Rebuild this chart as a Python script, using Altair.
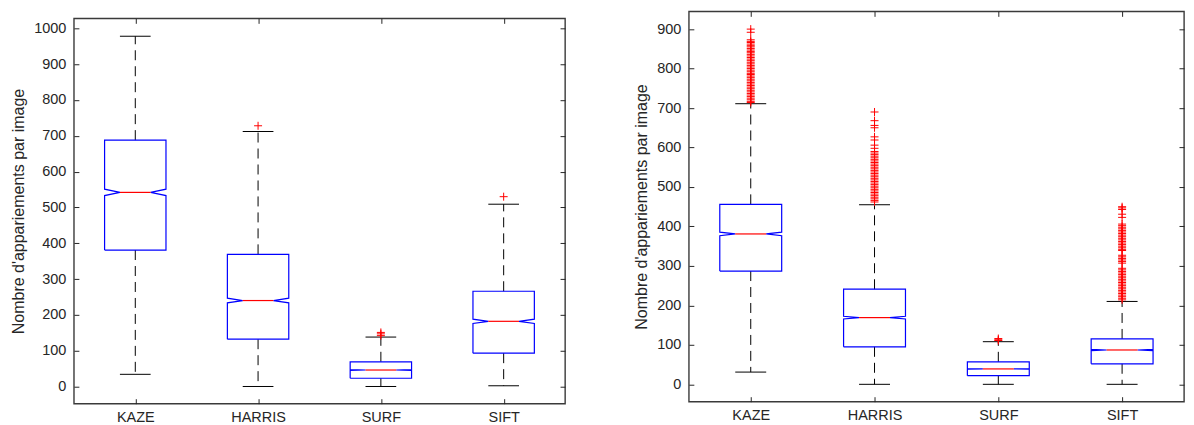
import altair as alt
import pandas as pd

names = ["KAZE", "HARRIS", "SURF", "SIFT"]
positions = [1, 2, 3, 4]

# ---- left panel values
L_q1 = [381, 132, 23, 93]
L_med = [542, 240, 46, 182]
L_q3 = [688, 369, 69, 266]
L_notch = [9, 6.5, 1.3, 6]
L_wlo = [34, 0, 0, 2]
L_whi = [978, 712, 138, 509]
L_out_KAZE = []
L_out_HARRIS = [728]
L_out_SURF = [142, 147, 151]
L_out_SIFT = [530]
L_yticks = [0, 100, 200, 300, 400, 500, 600, 700, 800, 900, 1000]
L_ydomain = [-48, 1028]

# ---- right panel values
R_q1 = [287, 95, 22, 52]
R_med = [381, 169, 39, 87]
R_q3 = [456, 241, 57, 115]
R_notch = [4.5, 3.5, 0.8, 1.5]
R_wlo = [31, 0, 0, 0]
R_whi = [711, 455, 108, 210]
R_out_KAZE = [900, 892, 873, 869, 866, 862, 858, 855, 851, 847, 843, 840, 836, 832,
              828, 824, 820, 816, 812, 808, 804, 800, 796, 792, 788, 785, 781, 777,
              773, 769, 765, 761, 757, 753, 749, 745, 741, 737, 733, 729, 725, 721,
              717, 714]
R_out_HARRIS = [690, 668, 656, 650, 627, 619, 606, 598, 590, 586, 582, 578, 574, 570,
                566, 562, 558, 554, 550, 546, 542, 538, 534, 530, 526, 522, 518, 514,
                510, 506, 502, 498, 494, 490, 486, 482, 478, 474, 470, 466, 462]
R_out_SURF = [111, 113, 116]
R_out_SIFT = [450, 447, 443, 431, 423, 406, 402, 398, 394, 390, 386, 382, 378, 374,
              370, 366, 362, 358, 354, 350, 346, 342, 339, 327, 323, 319, 315, 311,
              307, 294, 290, 286, 282, 278, 274, 270, 266, 262, 258, 254, 250, 246,
              242, 238, 234, 230, 226, 222, 218, 214]
R_yticks = [0, 100, 200, 300, 400, 500, 600, 700, 800, 900]
R_ydomain = [-44, 945]

FONT = "Liberation Sans"
TXT = "#262626"
BLUE = "#0000FF"
RED = "#FF0000"
HALF = 0.25      # half box width
INNER = 0.125    # half width at notch
CAP = 0.125      # half cap width
PLUS = "M-1,0L1,0M0,-1L0,1"


def panel(q1, med, q3, notch, wlo, whi, outs, yticks, ydomain, width, height, title=None):
    box_rows, whisk_rows, cap_rows, med_rows, out_rows = [], [], [], [], []
    for i, name in enumerate(names):
        c = positions[i]
        nlo, nhi = med[i] - notch[i], med[i] + notch[i]
        verts = [(c - HALF, q1[i]), (c + HALF, q1[i]), (c + HALF, nlo), (c + INNER, med[i]),
                 (c + HALF, nhi), (c + HALF, q3[i]), (c - HALF, q3[i]), (c - HALF, nhi),
                 (c - INNER, med[i]), (c - HALF, nlo), (c - HALF, q1[i])]
        for k, (vx, vy) in enumerate(verts):
            box_rows.append({"name": name, "k": k, "x": vx, "y": vy})
        whisk_rows.append({"name": name, "x": c, "y": q3[i], "y2": whi[i]})
        whisk_rows.append({"name": name, "x": c, "y": q1[i], "y2": wlo[i]})
        cap_rows.append({"x": c - CAP, "x2": c + CAP, "y": whi[i]})
        cap_rows.append({"x": c - CAP, "x2": c + CAP, "y": wlo[i]})
        med_rows.append({"x": c - INNER, "x2": c + INNER, "y": med[i]})
        for v in outs[i]:
            out_rows.append({"x": c, "y": v})

    xs = alt.Scale(domain=[0.5, 4.5], nice=False, zero=False)
    ys = alt.Scale(domain=ydomain, nice=False, zero=False)
    label_expr = "['', 'KAZE', 'HARRIS', 'SURF', 'SIFT'][datum.value]"

    common_axis = dict(grid=False, domain=False, tickSize=5, offset=-5, tickColor=TXT,
                       tickWidth=1, labelFont=FONT, labelFontSize=14.5, labelColor=TXT,
                       titleFont=FONT, titleFontSize=16, titleFontWeight="normal",
                       titleColor=TXT)

    x_bottom = alt.X("x:Q", scale=xs, axis=alt.Axis(orient="bottom", values=positions,
                     labelExpr=label_expr, labelPadding=7, title=None, **common_axis))
    y_left = alt.Y("y:Q", scale=ys, axis=alt.Axis(orient="left", values=yticks, format="d",
                   labelPadding=8, title=title, titlePadding=7, **common_axis))
    x_top = alt.X("x:Q", scale=xs, axis=alt.Axis(orient="top", values=positions,
                  labels=False, title=None, **common_axis))
    y_right = alt.Y("y:Q", scale=ys, axis=alt.Axis(orient="right", values=yticks,
                    labels=False, title=None, **common_axis))
    xn = alt.X("x:Q", scale=xs, axis=None)
    yn = alt.Y("y:Q", scale=ys, axis=None)

    wdf = pd.DataFrame(whisk_rows)
    whiskers = alt.Chart(wdf).mark_rule(color="#000000", strokeWidth=1,
                                         strokeDash=[10, 6]).encode(
        x=x_bottom, y=y_left, y2="y2:Q")
    ghost = alt.Chart(wdf).mark_rule(opacity=0).encode(x=x_top, y=y_right, y2="y2:Q")

    box = alt.Chart(pd.DataFrame(box_rows)).mark_line(color=BLUE, strokeWidth=1.2).encode(
        x=xn, y=yn, detail="name:N", order="k:Q")
    caps = alt.Chart(pd.DataFrame(cap_rows)).mark_rule(color="#000000", strokeWidth=1).encode(
        x=xn, x2="x2:Q", y=yn)
    meds = alt.Chart(pd.DataFrame(med_rows)).mark_rule(color=RED, strokeWidth=1.2).encode(
        x=xn, x2="x2:Q", y=yn)
    layers = [whiskers, ghost, box, caps, meds]
    if out_rows:
        pts = alt.Chart(pd.DataFrame(out_rows)).mark_point(
            shape=PLUS, size=64, filled=False, color=RED, strokeWidth=1, opacity=1).encode(
            x=xn, y=yn)
        layers.append(pts)
    return alt.layer(*layers).resolve_axis(x="independent", y="independent").properties(
        width=width, height=height,
        view=alt.ViewBackground(stroke="#3a3a3a", strokeWidth=1.4))


title_y = "Nombre d'appariements par image"
left = panel(L_q1, L_med, L_q3, L_notch, L_wlo, L_whi,
             [L_out_KAZE, L_out_HARRIS, L_out_SURF, L_out_SIFT],
             L_yticks, L_ydomain, 492, 386, title_y)
right = panel(R_q1, R_med, R_q3, R_notch, R_wlo, R_whi,
              [R_out_KAZE, R_out_HARRIS, R_out_SURF, R_out_SIFT],
              R_yticks, R_ydomain, 496, 391, title_y)

# invisible spacer that pushes the left panel down so both bottoms line up
spacer = alt.Chart(pd.DataFrame({"x": [0]})).mark_point(opacity=0).encode(
    x=alt.X("x:Q", axis=None), y=alt.value(0)
).properties(width=492, height=5, view=alt.ViewBackground(stroke=None))

left_col = alt.vconcat(spacer, left, spacing=0)

chart = alt.hconcat(left_col, right, spacing=66).properties(
    padding={"left": 2, "top": 0, "right": 0, "bottom": 0}
).configure(background="white")

chart.save("out.html", embed_options={"renderer": "svg", "actions": False})
